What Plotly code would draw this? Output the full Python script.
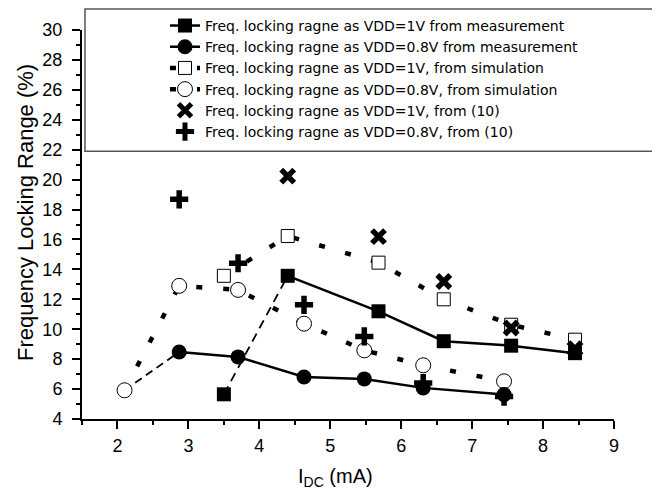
import plotly.graph_objects as go

# ---- data ----
meas1v_x = [3.5, 4.4, 5.68, 6.6, 7.55, 8.45]
meas1v_y = [5.65, 13.57, 11.2, 9.2, 8.9, 8.4]

meas08_x = [2.87, 3.7, 4.63, 5.48, 6.31, 7.45]
meas08_y = [8.48, 8.15, 6.81, 6.68, 6.08, 5.63]

sim1v_x = [3.5, 4.4, 5.68, 6.6, 7.55, 8.45]
sim1v_y = [13.57, 16.23, 14.45, 12.0, 10.3, 9.3]

sim08_x = [2.1, 2.87, 3.7, 4.63, 5.48, 6.31, 7.45]
sim08_y = [5.92, 12.9, 12.63, 10.37, 8.59, 7.59, 6.52]

ref1v_x = [4.4, 5.68, 6.6, 7.55, 8.45]
ref1v_y = [20.23, 16.19, 13.19, 10.08, 8.7]

ref08_x = [2.87, 3.7, 4.63, 5.48, 6.31, 7.45]
ref08_y = [18.68, 14.41, 11.63, 9.52, 6.4, 5.5]

names = [
    "Freq. locking ragne as VDD=1V from measurement",
    "Freq. locking ragne as VDD=0.8V from measurement",
    "Freq. locking ragne as VDD=1V, from simulation",
    "Freq. locking ragne as VDD=0.8V, from simulation",
    "Freq. locking ragne as VDD=1V, from (10)",
    "Freq. locking ragne as VDD=0.8V, from (10)",
]

FONT = "Arial, Liberation Sans, sans-serif"
LFONT = "DejaVu Sans, Arial, sans-serif"
BLACK = "black"

fig = go.Figure()

# dashed connectors (drawn first, below markers)
fig.add_trace(go.Scatter(
    x=meas1v_x[:2], y=meas1v_y[:2], mode="lines",
    line=dict(color=BLACK, width=1.8, dash="9px,6px"),
    showlegend=False, hoverinfo="skip"))
fig.add_trace(go.Scatter(
    x=[sim08_x[0], meas08_x[0]], y=[sim08_y[0], meas08_y[0]], mode="lines",
    line=dict(color=BLACK, width=1.8, dash="8px,5px"),
    showlegend=False, hoverinfo="skip"))

# simulation series (dotted thick)
fig.add_trace(go.Scatter(
    x=sim1v_x, y=sim1v_y, mode="lines+markers", name=names[2], legendrank=3,
    line=dict(color=BLACK, width=4.5, dash="6px,21px"),
    marker=dict(symbol="square", size=13, color="white",
                line=dict(color=BLACK, width=1))))
fig.add_trace(go.Scatter(
    x=sim08_x, y=sim08_y, mode="lines+markers", name=names[3], legendrank=4,
    line=dict(color=BLACK, width=4.5, dash="6px,21px"),
    marker=dict(symbol="circle", size=15, color="white",
                line=dict(color=BLACK, width=1))))

# measurement series (solid)
fig.add_trace(go.Scatter(
    x=meas1v_x[1:], y=meas1v_y[1:], mode="lines+markers", name=names[0], legendrank=1,
    line=dict(color=BLACK, width=2.5),
    marker=dict(symbol="square", size=14, color=BLACK)))
fig.add_trace(go.Scatter(
    x=meas1v_x[:1], y=meas1v_y[:1], mode="markers",
    marker=dict(symbol="square", size=14, color=BLACK),
    showlegend=False))
fig.add_trace(go.Scatter(
    x=meas08_x, y=meas08_y, mode="lines+markers", name=names[1], legendrank=2,
    line=dict(color=BLACK, width=2.5),
    marker=dict(symbol="circle", size=15, color=BLACK)))

# reference (10) points
fig.add_trace(go.Scatter(
    x=ref1v_x, y=ref1v_y, mode="markers", name=names[4], legendrank=5,
    marker=dict(symbol="x-thin", size=13, color=BLACK,
                line=dict(color=BLACK, width=5.5))))
fig.add_trace(go.Scatter(
    x=ref08_x, y=ref08_y, mode="markers", name=names[5], legendrank=6,
    marker=dict(symbol="cross-thin", size=13, color=BLACK,
                line=dict(color=BLACK, width=5.5))))

axis_common = dict(
    showline=True, linewidth=2, linecolor=BLACK, mirror=False,
    showgrid=False, zeroline=False,
    ticks="outside", ticklen=8, tickwidth=2, tickcolor=BLACK,
    tickfont=dict(family=FONT, size=18, color=BLACK),
)

# page body has an 8px margin, so the figure is sized/placed to compensate
fig.update_layout(
    width=652, height=483,
    margin=dict(l=74, r=46, t=21.5, b=71.5, autoexpand=False),
    paper_bgcolor="white", plot_bgcolor="white",
    font=dict(family=FONT, color=BLACK),
    xaxis=dict(range=[1.5, 9], dtick=1, tick0=0, ticklabelstandoff=1,
               minor=dict(dtick=0.5, ticklen=4, tickwidth=2, ticks="outside", tickcolor=BLACK),
               **axis_common),
    yaxis=dict(range=[4, 30], dtick=2, tick0=0, ticklabelstandoff=6,
               minor=dict(dtick=1, ticklen=4, tickwidth=2, ticks="outside", tickcolor=BLACK),
               **axis_common),
    legend=dict(x=0.156, y=0.996, xanchor="left", yanchor="top", yref="container",
                bgcolor="rgba(0,0,0,0)", borderwidth=0,
                font=dict(family=LFONT, size=14, color=BLACK),
                traceorder="normal"),
    shapes=[dict(type="rect", xref="paper", yref="paper",
                 x0=0.0056, x1=1.2, y0=0.6885, y1=1.054,
                 line=dict(color="#555555", width=1.5), fillcolor="rgba(0,0,0,0)",
                 layer="above")],
    annotations=[
        dict(text="Frequency Locking Range (%)", xref="paper", yref="paper",
             x=-0.105, y=0.530, textangle=-90, showarrow=False,
             xanchor="center", yanchor="middle",
             font=dict(family=FONT, size=22, color=BLACK)),
        dict(text="I<sub>DC</sub> (mA)", xref="paper", yref="paper",
             x=0.4756, y=-0.15, showarrow=False,
             xanchor="center", yanchor="middle",
             font=dict(family=FONT, size=20, color=BLACK)),
    ],
)

fig.write_html("out.html")
